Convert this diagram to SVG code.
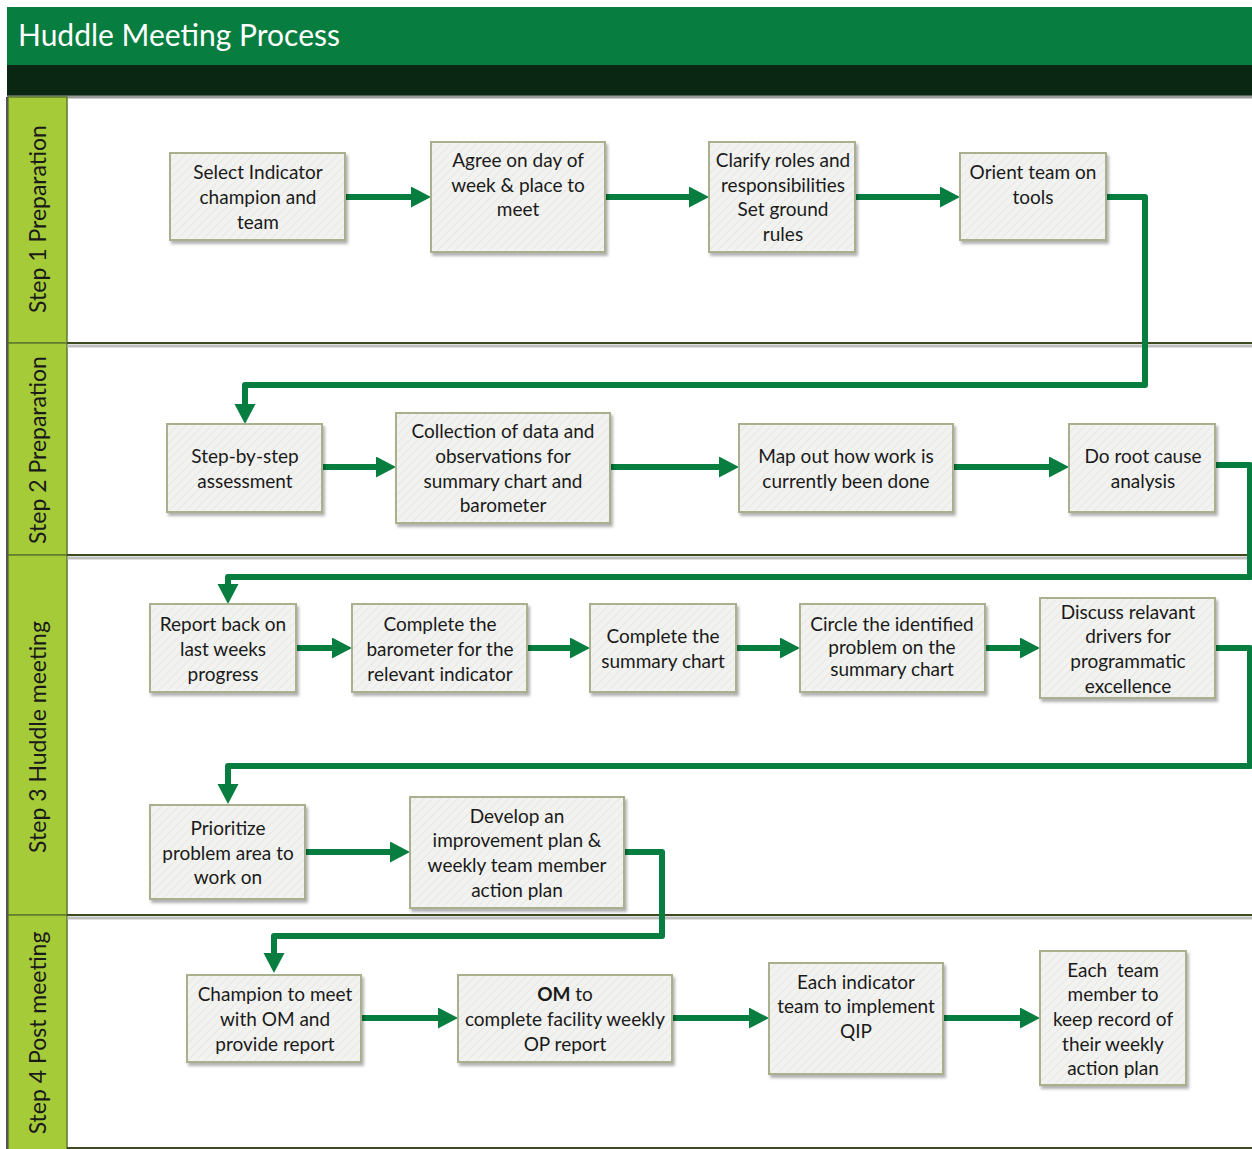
<svg xmlns="http://www.w3.org/2000/svg" width="1252" height="1149" viewBox="0 0 1252 1149">
<defs>
<style>
.t{font-family:Lato,"Open Sans","Liberation Sans",sans-serif;font-size:19px;fill:#1a1a1a;text-anchor:middle}
.lane{font-family:Lato,"Open Sans","Liberation Sans",sans-serif;font-size:23px;fill:#1a1a1a;text-anchor:middle}
.box{fill:url(#hatch);stroke:#a9b08d;stroke-width:2;filter:url(#sh)}
.c{fill:none;stroke:#077d40;stroke-width:6;stroke-linejoin:round;stroke-linecap:round}
.a{marker-end:url(#ah)}
.div{stroke:#3e4a22;stroke-width:2}
.dsh{stroke:#b0b0b0;stroke-width:3;opacity:0.8}
</style>
<pattern id="hatch" width="6" height="6" patternUnits="userSpaceOnUse" patternTransform="rotate(45)">
<rect width="6" height="6" fill="#f2f2f0"/>
<line x1="0" y1="0" x2="0" y2="6" stroke="#e7e7e4" stroke-width="2"/>
</pattern>
<filter id="sh" x="-10%" y="-10%" width="130%" height="130%">
<feDropShadow dx="2" dy="3" stdDeviation="1.5" flood-color="#000" flood-opacity="0.3"/>
</filter>
<marker id="ah" markerUnits="userSpaceOnUse" markerWidth="22" markerHeight="22" refX="2" refY="10.5" orient="auto">
<path d="M0,0 L20,10.5 L0,21 Z" fill="#077d40"/>
</marker>
</defs>
<rect x="0" y="0" width="1252" height="1149" fill="#ffffff"/>
<rect x="7" y="7" width="1250" height="60" fill="#077d40"/>
<rect x="7" y="65" width="1250" height="31" fill="#0a2714"/>
<line x1="7" y1="97" x2="1252" y2="97" stroke="#9a9a9a" stroke-width="3"/>
<text x="18" y="46" style="font-family:Lato,'Open Sans','Liberation Sans',sans-serif;font-size:30px;fill:#ffffff">Huddle Meeting Process</text>
<g id="lanes">
<rect x="8" y="97" width="59" height="246" fill="#a6cb39" stroke="#5f7a2c" stroke-width="1.5"/>
<rect x="8" y="343" width="59" height="212" fill="#a6cb39" stroke="#5f7a2c" stroke-width="1.5"/>
<rect x="8" y="555" width="59" height="360" fill="#a6cb39" stroke="#5f7a2c" stroke-width="1.5"/>
<rect x="8" y="915" width="59" height="236" fill="#a6cb39" stroke="#5f7a2c" stroke-width="1.5"/>
<line x1="7" y1="97" x2="7" y2="1149" stroke="#555" stroke-width="2"/>
<line x1="67" y1="346" x2="1252" y2="346" class="dsh"/>
<line x1="67" y1="558" x2="1252" y2="558" class="dsh"/>
<line x1="67" y1="918" x2="1252" y2="918" class="dsh"/>
<line x1="67" y1="343" x2="1252" y2="343" class="div"/>
<line x1="67" y1="555" x2="1252" y2="555" class="div"/>
<line x1="67" y1="915" x2="1252" y2="915" class="div"/>
<line x1="67" y1="1148" x2="1252" y2="1148" class="div"/>
<text class="lane" transform="translate(46,219) rotate(-90)">Step 1 Preparation</text>
<text class="lane" transform="translate(46,450) rotate(-90)">Step 2 Preparation</text>
<text class="lane" transform="translate(46,737) rotate(-90)">Step 3 Huddle meeting</text>
<text class="lane" transform="translate(46,1033) rotate(-90)">Step 4 Post meeting</text>
</g>
<g id="connectors">
<path class="c a" d="M345,197 H413"/>
<path class="c a" d="M605,197 H691"/>
<path class="c a" d="M855,197 H942"/>
<path class="c a" d="M1106,197 H1145 V385 H245 V406"/>
<path class="c a" d="M322,467 H378"/>
<path class="c a" d="M610,467 H721"/>
<path class="c a" d="M953,467 H1051"/>
<path class="c a" d="M1215,465 H1250 V577 H228 V586"/>
<path class="c a" d="M296,648 H334"/>
<path class="c a" d="M527,648 H572"/>
<path class="c a" d="M736,648 H782"/>
<path class="c a" d="M985,648 H1022"/>
<path class="c a" d="M1215,648 H1250 V766 H228 V786"/>
<path class="c a" d="M305,852 H392"/>
<path class="c a" d="M624,852 H662 V936 H274 V955"/>
<path class="c a" d="M361,1018 H440"/>
<path class="c a" d="M672,1018 H751"/>
<path class="c a" d="M943,1018 H1022"/>
</g>
<g id="n1"><rect class="box" x="170" y="153" width="175" height="87"/>
<text class="t" x="258" y="179">Select Indicator</text><text class="t" x="258" y="204">champion and</text><text class="t" x="258" y="229">team</text></g>
<g id="n2"><rect class="box" x="431" y="142" width="174" height="110"/>
<text class="t" x="518" y="167">Agree on day of</text><text class="t" x="518" y="192">week &amp; place to</text><text class="t" x="518" y="216">meet</text></g>
<g id="n3"><rect class="box" x="709" y="142" width="146" height="110"/>
<text class="t" x="783" y="167">Clarify roles and</text><text class="t" x="783" y="192">responsibilities</text><text class="t" x="783" y="216">Set ground</text><text class="t" x="783" y="241">rules</text></g>
<g id="n4"><rect class="box" x="960" y="153" width="146" height="87"/>
<text class="t" x="1033" y="179">Orient team on</text><text class="t" x="1033" y="204">tools</text></g>
<g id="n5"><rect class="box" x="167" y="424" width="155" height="88"/>
<text class="t" x="245" y="463">Step-by-step</text><text class="t" x="245" y="488">assessment</text></g>
<g id="n6"><rect class="box" x="396" y="413" width="214" height="110"/>
<text class="t" x="503" y="438">Collection of data and</text><text class="t" x="503" y="463">observations for</text><text class="t" x="503" y="488">summary chart and</text><text class="t" x="503" y="512">barometer</text></g>
<g id="n7"><rect class="box" x="739" y="424" width="214" height="88"/>
<text class="t" x="846" y="463">Map out how work is</text><text class="t" x="846" y="488">currently been done</text></g>
<g id="n8"><rect class="box" x="1069" y="424" width="146" height="88"/>
<text class="t" x="1143" y="463">Do root cause</text><text class="t" x="1143" y="488">analysis</text></g>
<g id="n9"><rect class="box" x="150" y="604" width="146" height="88"/>
<text class="t" x="223" y="631">Report back on</text><text class="t" x="223" y="656">last weeks</text><text class="t" x="223" y="681">progress</text></g>
<g id="n10"><rect class="box" x="352" y="604" width="175" height="88"/>
<text class="t" x="440" y="631">Complete the</text><text class="t" x="440" y="656">barometer for the</text><text class="t" x="440" y="681">relevant indicator</text></g>
<g id="n11"><rect class="box" x="590" y="604" width="146" height="88"/>
<text class="t" x="663" y="643">Complete the</text><text class="t" x="663" y="668">summary chart</text></g>
<g id="n12"><rect class="box" x="800" y="604" width="185" height="88"/>
<text class="t" x="892" y="631">Circle the identified</text><text class="t" x="892" y="654">problem on the</text><text class="t" x="892" y="676">summary chart</text></g>
<g id="n13"><rect class="box" x="1040" y="598" width="175" height="100"/>
<text class="t" x="1128" y="619">Discuss relavant</text><text class="t" x="1128" y="643">drivers for</text><text class="t" x="1128" y="668">programmatic</text><text class="t" x="1128" y="693">excellence</text></g>
<g id="n14"><rect class="box" x="150" y="805" width="155" height="94"/>
<text class="t" x="228" y="835">Prioritize</text><text class="t" x="228" y="860">problem area to</text><text class="t" x="228" y="884">work on</text></g>
<g id="n15"><rect class="box" x="410" y="797" width="214" height="111"/>
<text class="t" x="517" y="823">Develop an</text><text class="t" x="517" y="847">improvement plan &amp;</text><text class="t" x="517" y="872">weekly team member</text><text class="t" x="517" y="897">action plan</text></g>
<g id="n16"><rect class="box" x="187" y="975" width="174" height="87"/>
<text class="t" x="275" y="1001">Champion to meet</text><text class="t" x="275" y="1026">with OM and</text><text class="t" x="275" y="1051">provide report</text></g>
<g id="n17"><rect class="box" x="458" y="975" width="214" height="87"/>
<text class="t" x="565" y="1001"><tspan font-weight="bold">OM</tspan> to</text><text class="t" x="565" y="1026">complete facility weekly</text><text class="t" x="565" y="1051">OP report</text></g>
<g id="n18"><rect class="box" x="769" y="963" width="174" height="111"/>
<text class="t" x="856" y="989">Each indicator</text><text class="t" x="856" y="1013">team to implement</text><text class="t" x="856" y="1038">QIP</text></g>
<g id="n19"><rect class="box" x="1040" y="951" width="146" height="134"/>
<text class="t" x="1113" y="977">Each&#160; team</text><text class="t" x="1113" y="1001">member to</text><text class="t" x="1113" y="1026">keep record of</text><text class="t" x="1113" y="1051">their weekly</text><text class="t" x="1113" y="1075">action plan</text></g>
</svg>
